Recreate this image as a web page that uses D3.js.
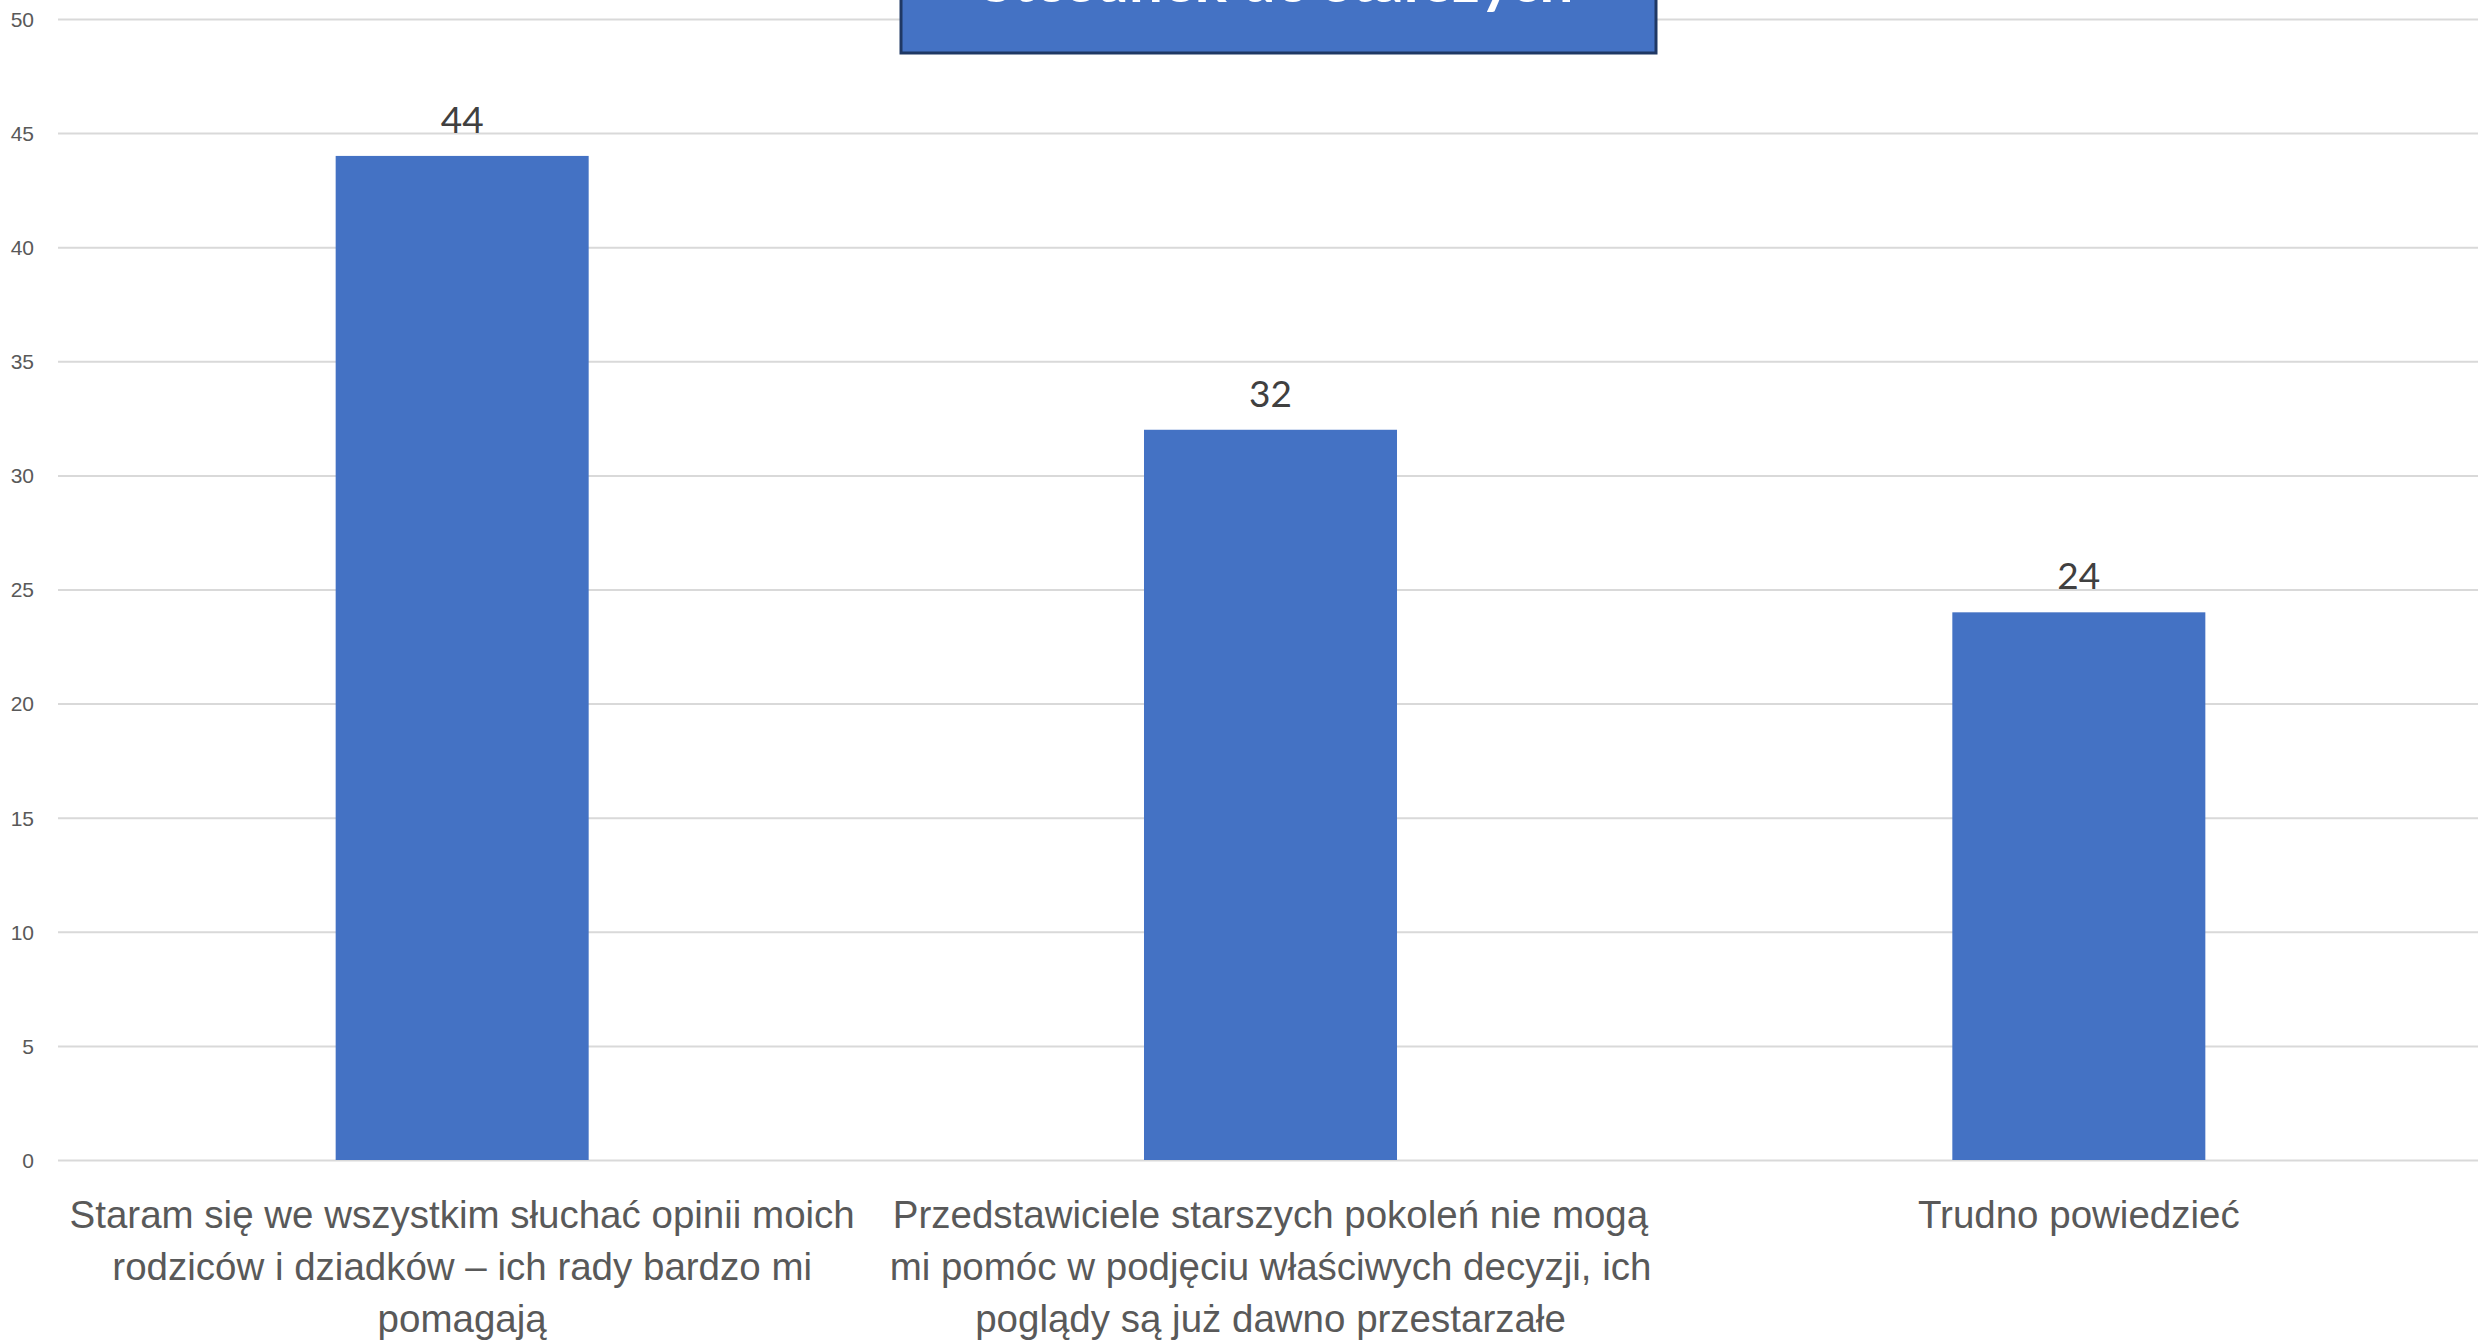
<!DOCTYPE html>
<html>
<head>
<meta charset="utf-8">
<script src="https://cdn.jsdelivr.net/npm/d3@7"></script>
<style>
  body { margin: 0; background: #fff; }
  svg { display: block; font-family: Lato, "Open Sans", sans-serif; }
  .grid line { stroke: #d9d9d9; stroke-width: 2; }
  .grid text { fill: #595959; font-size: 21px; }
  .x-axis text { fill: #595959; font-size: 38.5px; }
  .bar-label { fill: #404040; font-size: 37px; }
  .title-box { fill: #4472c4; stroke: #1f3864; stroke-width: 3; }
  .title-text { fill: #fff; font-size: 60px; font-weight: bold; }
</style>
</head>
<body>
<svg id="chart"></svg>
<script>
// data
const categories = [
  ['Staram się we wszystkim słuchać opinii moich', 'rodziców i dziadków – ich rady bardzo mi', 'pomagają'],
  ['Przedstawiciele starszych pokoleń nie mogą', 'mi pomóc w podjęciu właściwych decyzji, ich', 'poglądy są już dawno przestarzałe'],
  ['Trudno powiedzieć']
];
const values = [44, 32, 24];
const yTicks = [0, 5, 10, 15, 20, 25, 30, 35, 40, 45, 50];
const titleText = 'Stosunek do starszych';

class Barchart {

  constructor(_config, _data) {
    this.config = {
      parentElement: _config.parentElement,
      containerWidth: _config.containerWidth || 2478,
      containerHeight: _config.containerHeight || 1341,
      // right side of the plot runs a bit past the window, like the original
      margin: _config.margin || {top: 19, right: -5, bottom: 181, left: 58},
    }
    this.data = _data;
    this.initVis();
  }

  initVis() {
    let vis = this;

    vis.width = vis.config.containerWidth - vis.config.margin.left - vis.config.margin.right;
    vis.height = vis.config.containerHeight - vis.config.margin.top - vis.config.margin.bottom;

    vis.yScale = d3.scaleLinear()
        .domain([0, 50])
        .range([vis.height, 0]);

    vis.xScale = d3.scaleBand()
        .domain(d3.range(vis.data.length))
        .range([0, vis.width])
        .paddingInner(0.687)
        .paddingOuter(0.3435);

    vis.svg = d3.select(vis.config.parentElement)
        .attr('width', vis.config.containerWidth)
        .attr('height', vis.config.containerHeight);

    vis.chart = vis.svg.append('g')
        .attr('transform', `translate(${vis.config.margin.left},${vis.config.margin.top})`);

    // gridlines + y labels
    vis.yAxis = d3.axisLeft(vis.yScale)
        .tickValues(yTicks)
        .tickSize(-vis.width)
        .tickPadding(24);

    vis.yAxisG = vis.chart.append('g')
        .attr('class', 'grid')
        .call(vis.yAxis);
    vis.yAxisG.select('.domain').remove();
    vis.yAxisG.selectAll('text').attr('dy', '0.35em');

    vis.renderVis();
  }

  renderVis() {
    let vis = this;

    vis.chart.selectAll('.bar')
        .data(vis.data)
      .join('rect')
        .attr('class', 'bar')
        .attr('x', (d, i) => vis.xScale(i))
        .attr('y', d => vis.yScale(d.value))
        .attr('width', vis.xScale.bandwidth())
        .attr('height', d => vis.height - vis.yScale(d.value))
        .attr('fill', '#4472c4');

    vis.chart.selectAll('.bar-label')
        .data(vis.data)
      .join('text')
        .attr('class', 'bar-label')
        .attr('text-anchor', 'middle')
        .attr('x', (d, i) => vis.xScale(i) + vis.xScale.bandwidth() / 2)
        .attr('y', d => vis.yScale(d.value) - 23)
        .text(d => d.value);

    // x axis, multi-line category labels
    vis.xAxis = d3.axisBottom(vis.xScale)
        .tickSize(0)
        .tickFormat('');

    vis.xAxisG = vis.chart.append('g')
        .attr('class', 'x-axis')
        .attr('transform', `translate(0,${vis.height})`)
        .call(vis.xAxis);
    vis.xAxisG.select('.domain').remove();

    vis.xAxisG.selectAll('.tick text')
        .attr('y', 68)
        .attr('dy', 0)
        .each(function(i) {
          const t = d3.select(this);
          vis.data[i].label.forEach((line, k) => {
            t.append('tspan')
                .attr('x', 0)
                .attr('dy', k === 0 ? 0 : 52)
                .text(line);
          });
        });

    // title box, mostly cut off at the top
    vis.svg.append('rect')
        .attr('class', 'title-box')
        .attr('x', 901)
        .attr('y', -120)
        .attr('width', 755)
        .attr('height', 173);

    vis.svg.append('text')
        .attr('class', 'title-text')
        .attr('text-anchor', 'middle')
        .attr('x', 1277)
        .attr('y', 2)
        .text(titleText);
  }
}

const data = values.map((v, i) => ({label: categories[i], value: v}));
new Barchart({parentElement: '#chart'}, data);
</script>
</body>
</html>
